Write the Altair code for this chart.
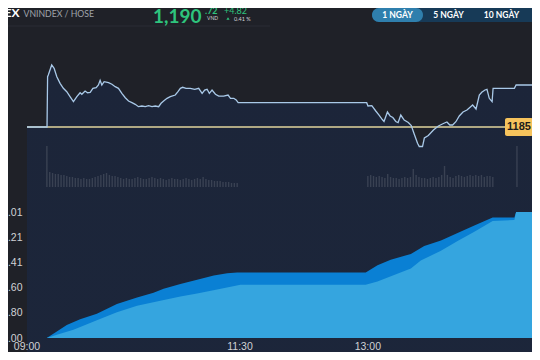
import altair as alt
import pandas as pd

# ---------------- header texts ----------------
index_name = "VNINDEX"
exchange = "VNINDEX / HOSE"
price_int = "1,190"
price_dec = ".72"
currency = "VND"
change = "+4.82"
change_pct = "0.41 %"
periods = ["1 NGÀY", "5 NGÀY", "10 NGÀY"]

ref_price = 1185

# ---------------- intraday price (minutes after 09:00) ----------------
price_min = [0, 14.1, 14.5, 15.0, 17.4, 19.1, 21.0, 23.3, 25.6, 28.0,
             30.3, 32.7, 35.1, 37.4, 38.6, 40.9, 42.6, 44.5, 46.4, 48.7,
             50.3, 51.5, 52.7, 54.3, 57.4, 59.8, 62.1, 64.4, 66.8, 69.2,
             71.5, 73.9, 76.2, 78.5, 80.9, 83.3, 85.6, 88.0, 90.3, 92.7,
             94.4, 96.2, 98.6, 100.9, 104.4, 106.3, 108.0, 109.6, 112.0, 115.0,
             118.1, 120.9, 123.3, 125.1, 126.8, 128.4, 130.3, 132.7, 135.0, 138.5,
             141.6, 143.3, 145.6, 147.3, 148.7, 239.2, 240.1, 242.8, 245.6, 247.9,
             250.2, 251.4, 253.8, 255.7, 257.6, 259.7, 261.3, 263.2, 265.6, 268.5,
             270.6, 272.4, 275.0, 276.2, 278.5, 279.8, 282.6, 286.2, 289.7, 293.2,
             295.7, 297.7, 299.7, 302.0, 304.4, 307.0, 309.8, 312.6, 313.8, 316.2,
             318.5, 320.2, 322.5, 323.9, 325.5, 327.5, 328.2, 343.2, 344.4, 359.2]
price_val = [1185.00, 1185.00, 1191.85, 1192.08, 1193.45, 1193.00, 1191.85, 1190.95, 1190.27, 1189.81,
             1189.13, 1188.45, 1189.13, 1189.67, 1189.46, 1189.90, 1189.67, 1189.73, 1190.27, 1190.35,
             1190.72, 1191.36, 1190.72, 1191.17, 1191.04, 1190.82, 1190.49, 1190.27, 1189.59, 1188.99,
             1188.54, 1188.31, 1188.09, 1187.77, 1187.86, 1187.77, 1187.90, 1187.77, 1187.86, 1187.77,
             1188.23, 1188.54, 1188.91, 1189.13, 1189.36, 1189.81, 1190.27, 1190.41, 1190.27, 1190.27,
             1190.14, 1190.27, 1189.59, 1190.04, 1190.14, 1189.59, 1190.04, 1189.46, 1189.22, 1189.22,
             1189.36, 1188.91, 1188.91, 1188.68, 1188.31, 1188.31, 1187.86, 1187.90, 1187.18, 1186.63,
             1186.02, 1185.75, 1187.04, 1186.50, 1186.29, 1185.75, 1185.59, 1186.63, 1185.95, 1185.61,
             1185.20, 1184.18, 1182.78, 1182.34, 1182.34, 1183.50, 1183.84, 1184.59, 1185.14, 1185.48,
             1185.68, 1185.27, 1185.27, 1185.72, 1186.50, 1187.04, 1187.32, 1187.79, 1188.00, 1187.45,
             1189.36, 1189.73, 1190.04, 1190.14, 1188.91, 1188.45, 1190.27, 1190.27, 1190.72, 1190.72]

# ---------------- volume bars ----------------
vol_min = [14, 16, 18, 20, 22, 24, 26, 28, 30, 32,
           34, 36, 38, 40, 42, 44, 46, 48, 50, 52,
           54, 56, 58, 60, 62, 64, 66, 68, 70, 72,
           74, 76, 78, 80, 82, 84, 86, 88, 90, 92,
           94, 96, 98, 100, 102, 104, 106, 108, 110, 112,
           114, 116, 118, 120, 122, 124, 126, 128, 130, 132,
           134, 136, 138, 140, 142, 144, 146, 148,
           240, 242, 244, 246, 248, 250, 252, 254, 256, 258,
           260, 262, 264, 266, 268, 270, 272, 274, 276, 278,
           280, 282, 284, 286, 288, 290, 292, 294, 296, 298,
           300, 302, 304, 306, 308, 310, 312, 314, 316, 318,
           320, 322, 324, 326, 328, 345]
vol_val = [41, 15, 14, 13, 13, 12, 12, 11, 10, 10,
           9, 9, 8, 9, 8, 8, 9, 10, 11, 12,
           13, 14, 12, 11, 11, 10, 9, 8, 9, 8,
           8, 9, 10, 9, 8, 8, 9, 10, 9, 8,
           9, 8, 7, 8, 9, 8, 8, 7, 8, 9,
           8, 7, 8, 9, 8, 10, 8, 7, 7, 6,
           6, 6, 5, 5, 5, 4, 4, 4,
           11, 12, 11, 10, 11, 10, 9, 13, 10, 9,
           9, 8, 9, 10, 9, 10, 18, 12, 10, 9,
           9, 8, 9, 10, 9, 10, 12, 21, 12, 10,
           9, 11, 12, 11, 10, 11, 12, 11, 12, 11,
           12, 10, 11, 11, 10, 41]

# ---------------- cumulative value (bottom panel) ----------------
total_min = [13.9, 21.0, 28.0, 37.4, 49.2, 63.3, 77.5, 89.1, 96.2, 108.0, 119.8, 131.5, 141.0,
             148.0, 238.5, 246.8, 256.1, 270.3, 279.7, 291.5, 303.2, 315.0, 327.9, 343.2, 344.4, 359.0]
total_val = [0, 188, 376, 545, 702, 983, 1171, 1311, 1423, 1563, 1684, 1808, 1872,
             1900, 1900, 2105, 2265, 2434, 2667, 2827, 3043, 3256, 3492, 3492, 3649.01, 3649.01]
part_min = [13.9, 21.0, 32.7, 49.2, 63.3, 77.5, 93.9, 108.0, 119.8, 133.9, 150.3, 238.5,
            246.8, 258.5, 270.3, 277.3, 291.5, 303.2, 315.0, 327.9, 343.2, 344.4, 359.0]
part_val = [0, 94, 236, 516, 749, 937, 1078, 1199, 1291, 1403, 1544, 1544,
            1639, 1824, 2013, 2246, 2526, 2807, 3079, 3388, 3416, 3649.01, 3649.01]

value_ticks = [0, 729.80, 1459.60, 2189.41, 2919.21, 3649.01]
time_ticks = [0, 150, 240]
time_labels = ["09:00", "11:30", "13:00"]

# ---------------- styling / layout ----------------
BG = "#1f2128"
W, H = 505, 334
HEAD_FONT = "Lato"
AX_FONT = "Liberation Sans"
GREEN = "#2ec47d"
LABEL = "#d0d2d5"

x_scale = alt.Scale(domain=[0, 355.6], nice=False, zero=False, padding=0)
price_scale = alt.Scale(domain=[1180, 1195], range=[155.7, 45.6], nice=False, zero=False)
vol_scale = alt.Scale(domain=[0, 45], range=[179, 134], nice=False, zero=False)
cum_scale = alt.Scale(domain=[0, 3649.01], range=[330, 204], nice=False, zero=False)
AREA_BOTTOM = 179

one = pd.DataFrame({"k": [0]})


def label(txt, x, y, size, color, weight="normal", align="left", baseline="alphabetic", font=HEAD_FONT):
    return alt.Chart(one).mark_text(
        text=txt, fontSize=size, color=color, fontWeight=weight,
        align=align, baseline=baseline, font=font
    ).encode(x=alt.value(x), y=alt.value(y))


def box(x, x2, y, y2, color, radius=0):
    return alt.Chart(one).mark_rect(color=color, cornerRadius=radius).encode(
        x=alt.value(x), x2=alt.value(x2), y=alt.value(y), y2=alt.value(y2))


header = [
    alt.Chart(one).mark_rule(color="#2a2d34", strokeWidth=1).encode(
        x=alt.value(-19), x2=alt.value(243), y=alt.value(18)),
    label(index_name, -7.5, 9, 12, "white", weight="bold", align="right"),
    label(exchange, -3.5, 9, 8.7, "#9fa3aa"),
    label(price_int, 126, 15, 19, GREEN, weight="bold"),
    label(price_dec, 178, 6, 9, GREEN, weight="bold"),
    label(currency, 180, 12, 5, LABEL),
    label(change, 197, 6, 9, GREEN),
    alt.Chart(one).mark_point(shape="triangle-up", filled=True, size=10, color=GREEN, opacity=1).encode(
        x=alt.value(201), y=alt.value(10.5)),
    label(change_pct, 207, 12.5, 5.5, LABEL),
    box(345, 520, 0, 14, "#173a57", radius=7),
    box(345, 396, 0, 14, "#2f7fad", radius=7),
    label(periods[0], 370.5, 7.2, 8.5, "white", weight="bold", align="center", baseline="middle"),
    label(periods[1], 421.5, 7.2, 8.5, "white", weight="bold", align="center", baseline="middle"),
    label(periods[2], 474.5, 7.2, 8.5, "white", weight="bold", align="center", baseline="middle"),
]

price_df = pd.DataFrame({"m": price_min, "p": price_val})
ref_df = pd.DataFrame({"p": [ref_price]})
vol_df = pd.DataFrame({"m": vol_min, "vol": vol_val})
tot_df = pd.DataFrame({"m": total_min, "v": total_val})
part_df = pd.DataFrame({"m": part_min, "v": part_val})
tick_df = pd.DataFrame({"m": time_ticks, "t": time_labels})

grad = alt.Gradient(
    gradient="linear",
    stops=[alt.GradientStop(color="#1c2539", offset=0),
           alt.GradientStop(color="#1a2e4a", offset=0.5),
           alt.GradientStop(color="#1f426a", offset=0.515),
           alt.GradientStop(color="#2964a0", offset=1)],
    x1=0, x2=0, y1=0, y2=1)

X = alt.X("m:Q", scale=x_scale, axis=None)

price_area = alt.Chart(price_df).mark_area(color=grad, opacity=1).encode(
    x=X, y=alt.Y("p:Q", scale=price_scale, axis=None), y2=alt.value(AREA_BOTTOM))

vol_bars = alt.Chart(vol_df).mark_rule(strokeWidth=1.4, color="white", opacity=0.13).encode(
    x=X, y=alt.Y("vol:Q", scale=vol_scale, axis=None), y2=alt.datum(0))

ref_rule = alt.Chart(ref_df).mark_rule(color="#e0d49c", strokeWidth=1.5).encode(
    y=alt.Y("p:Q", scale=price_scale, axis=None), x=alt.value(0), x2=alt.value(479))

price_line = alt.Chart(price_df).mark_line(color="#a9c9e8", strokeWidth=1.3).encode(
    x=X, y=alt.Y("p:Q", scale=price_scale, axis=None))

ref_box = alt.Chart(ref_df).mark_rect(color="#f6c35c", height=18, cornerRadius=2).encode(
    y=alt.Y("p:Q", scale=price_scale, axis=None), x=alt.value(478), x2=alt.value(506))

ref_text = alt.Chart(ref_df).mark_text(
    font=AX_FONT, fontSize=11, fontWeight="bold", color="#1b1b1b", align="center", baseline="middle"
).encode(y=alt.Y("p:Q", scale=price_scale, axis=None), x=alt.value(492), text=alt.Text("p:Q", format="d"))

cum_dark = alt.Chart(tot_df).mark_area(color="#0a80d4", opacity=1).encode(
    x=X,
    y=alt.Y("v:Q", scale=cum_scale, axis=alt.Axis(
        values=value_ticks, format=".2f", grid=True, gridColor="#44474e", gridWidth=1,
        domain=False, ticks=False, labelPadding=5, labelColor=LABEL, labelFontSize=10.5,
        labelFont=AX_FONT, labelOverlap=False, title=None)))

cum_light = alt.Chart(part_df).mark_area(color="#35a5df", opacity=1).encode(
    x=X, y=alt.Y("v:Q", scale=cum_scale, axis=None))

time_text = alt.Chart(tick_df).mark_text(
    font=AX_FONT, fontSize=10.5, color=LABEL, align="center", baseline="middle"
).encode(x=X, y=alt.value(338.5), text="t:N")

chart = alt.layer(
    price_area, vol_bars, ref_rule, price_line, ref_box, ref_text,
    cum_dark, cum_light, time_text, *header
).resolve_scale(y="independent").properties(
    width=W, height=H,
    autosize=alt.AutoSizeParams(type="none"),
    padding={"left": 19, "top": 0, "right": 0, "bottom": 10},
    background=BG,
).configure_view(strokeWidth=0)

chart.save("out.html", embed_options={"renderer": "svg", "actions": False})
